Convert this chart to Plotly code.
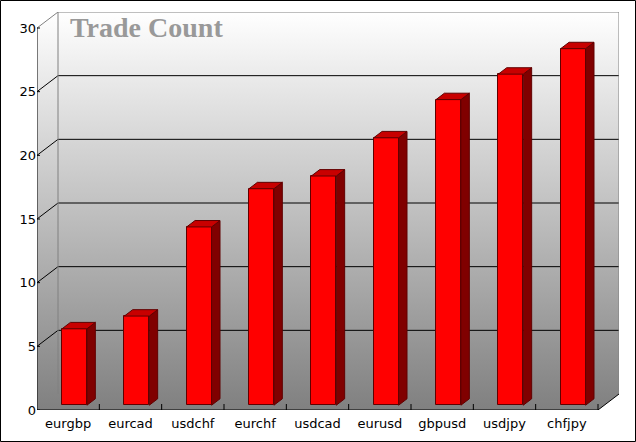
import plotly.graph_objects as go

categories = ["eurgbp", "eurcad", "usdchf", "eurchf", "usdcad", "eurusd", "gbpusd", "usdjpy", "chfjpy"]
trade_counts = [6, 7, 14, 17, 18, 21, 24, 26, 28]
y_ticks = [0, 5, 10, 15, 20, 25, 30]
title_text = "Trade Count"

# layout geometry (pixels)
W, H = 636, 442
L, R, T, B = 37, 17, 12, 32
DEPTH_PX, DEPTH_PY = 21, 16
YMAX = 30
n = len(categories)
plot_w = W - L - R
plot_h = H - T - B
px_per_cat = (plot_w - DEPTH_PX) / n
px_per_unit = (plot_h - DEPTH_PY) / YMAX
dxu = DEPTH_PX / px_per_cat
dyu = DEPTH_PY / px_per_unit
x0, x1 = -0.5, n - 0.5

fig = go.Figure()

# plot-area walls (left wall + back wall + floor) with vertical gradient
fig.add_trace(go.Scatter(
    x=[x0, x0, x0 + dxu, x1 + dxu, x1 + dxu, x1, x0],
    y=[0, YMAX, YMAX + dyu, YMAX + dyu, dyu, 0, 0],
    mode="lines", line=dict(width=0), fill="toself",
    fillgradient=dict(type="vertical", colorscale=[[0, "#808080"], [1, "#ffffff"]]),
    hoverinfo="skip", showlegend=False))

# grid lines (left wall diagonal + back wall horizontal)
gx, gy = [], []
for v in y_ticks[1:-1]:
    gx += [x0, x0 + dxu, x1 + dxu, None]
    gy += [v, v + dyu, v + dyu, None]
fig.add_trace(go.Scatter(x=gx, y=gy, mode="lines", line=dict(color="#000000", width=1),
                         hoverinfo="skip", showlegend=False))

# back wall border (gray)
fig.add_trace(go.Scatter(
    x=[x0, x0 + dxu, x1 + dxu, x1 + dxu, None, x0 + dxu, x0 + dxu],
    y=[YMAX, YMAX + dyu, YMAX + dyu, dyu, None, YMAX + dyu, dyu],
    mode="lines", line=dict(color="#808080", width=1), hoverinfo="skip", showlegend=False))

# axis lines + ticks (black)
ax, ay = [x0, x0, None, x0, x1, x1 + dxu, None], [YMAX, 0, None, 0, 0, dyu, None]
tick_len = 6 / px_per_unit
for k in range(n):
    ax += [k + 0.5, k + 0.5, None]
    ay += [0, tick_len, None]
ytl = 3 / px_per_cat
for v in y_ticks:
    ax += [x0, x0 + ytl, None]
    ay += [v, v, None]
fig.add_trace(go.Scatter(x=ax, y=ay, mode="lines", line=dict(color="#000000", width=1),
                         hoverinfo="skip", showlegend=False))

# bars: offset into the depth, drawn on an overlaying axis pair so they sit above the walls
bw = 0.4
off_x, off_y = 0.3 * dxu, 0.3 * dyu
bdx, bdy = 0.4 * dxu, 0.4 * dyu
xs = [i + off_x for i in range(n)]

sx, sy, tx, ty = [], [], [], []
for xc, v in zip(xs, trade_counts):
    xl, xr = xc - bw / 2, xc + bw / 2
    top = v + off_y
    sx += [xr, xr + bdx, xr + bdx, xr, xr, None]
    sy += [off_y, off_y + bdy, top + bdy, top, off_y, None]
    tx += [xl, xl + bdx, xr + bdx, xr, xl, None]
    ty += [top, top + bdy, top + bdy, top, top, None]

fig.add_trace(go.Bar(x=xs, y=trade_counts, base=off_y, width=bw, xaxis="x2", yaxis="y2",
                     marker=dict(color="#ff0000", line=dict(color="#600000", width=1)),
                     showlegend=False))
fig.add_trace(go.Scatter(x=sx, y=sy, mode="lines", fill="toself", fillcolor="#800000",
                         xaxis="x2", yaxis="y2",
                         line=dict(color="#600000", width=1), hoverinfo="skip", showlegend=False))
fig.add_trace(go.Scatter(x=tx, y=ty, mode="lines", fill="toself", fillcolor="#c80000",
                         xaxis="x2", yaxis="y2",
                         line=dict(color="#600000", width=1), hoverinfo="skip", showlegend=False))

fig.add_annotation(text="<b>" + title_text + "</b>", xref="paper", yref="paper",
                   x=(68 - L) / plot_w, y=(H - B - 28) / plot_h,
                   xanchor="left", yanchor="middle", showarrow=False,
                   font=dict(family="Liberation Serif", size=28, color="#999999"))

# outer border
fig.add_shape(type="rect", xref="paper", yref="paper",
              x0=(0.5 - L) / plot_w, x1=(W - 0.5 - L) / plot_w,
              y0=(H - B - (H - 0.5)) / plot_h, y1=(H - B - 0.5) / plot_h,
              line=dict(color="#000000", width=1))

xr_ = [x0, x1 + dxu]
yr_ = [0, YMAX + dyu]
fig.update_layout(
    width=W, height=H, margin=dict(l=L, r=R, t=T, b=B),
    paper_bgcolor="#ffffff", plot_bgcolor="rgba(0,0,0,0)",
    barmode="overlay", bargap=0,
    font=dict(family="DejaVu Sans", size=13, color="#000000"),
    xaxis=dict(range=xr_, tickvals=list(range(n)), ticktext=categories, ticklabelstandoff=4,
               showgrid=False, zeroline=False, showline=False, ticks="", fixedrange=True),
    yaxis=dict(range=yr_, tickvals=y_ticks, showgrid=False, zeroline=False,
               showline=False, ticks="", fixedrange=True),
    xaxis2=dict(range=xr_, overlaying="x", visible=False, fixedrange=True),
    yaxis2=dict(range=yr_, overlaying="y", visible=False, fixedrange=True),
)

fig.write_html("out.html", config={"displayModeBar": False},
               post_script="document.body.style.margin='0';")
